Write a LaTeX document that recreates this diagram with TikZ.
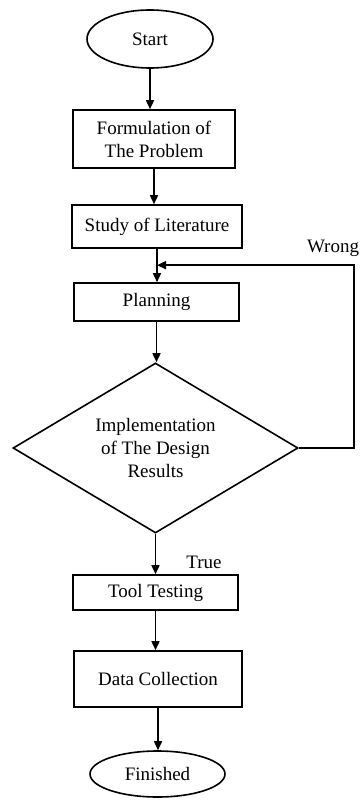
\documentclass[tikz,border=0pt]{standalone}
\usepackage{fontspec}
\setmainfont{Liberation Serif}
\usetikzlibrary{shapes.geometric, arrows.meta, positioning, calc}
\definecolor{mydark}{RGB}{0,0,0}
\tikzset{
  block/.style={rectangle, draw=mydark, fill=white, align=center,
    inner sep=0pt, line width=0.8pt},
  terminal/.style={ellipse, draw=mydark, fill=white, align=center,
    inner sep=0pt, line width=0.8pt},
  decision/.style={diamond, draw=mydark, fill=white, align=center,
    inner sep=0pt, aspect=1.68, line width=0.8pt},
  tag/.style={inner sep=0pt, color=mydark},
  arrow/.style={-{Triangle[length=4.5pt,width=4pt]}, line width=0.8pt, color=mydark}
}

\begin{document}
\begin{tikzpicture}[x=0.5pt, y=-0.5pt, every node/.style={font=\fontsize{9.5}{11.5}\selectfont}]
  \useasboundingbox (0,0) rectangle (359,802);

  % Terminals
  \node[terminal, minimum width=63pt, minimum height=29pt] (start) at (150,39) {Start};
  \node[terminal, minimum width=67.5pt, minimum height=23pt] (finished) at (157.5,774) {Finished};

  % Steps
  \node[block, minimum width=81pt, minimum height=29pt] (formulation) at (154,139) {Formulation of\\The Problem};
  \node[block, minimum width=85pt, minimum height=21.5pt] (study) at (157,226.5) {Study of Literature};
  \node[block, minimum width=82.5pt, minimum height=19pt] (planning) at (156.5,302) {Planning};
  \node[block, minimum width=82.5pt, minimum height=17.5pt] (testing) at (155.5,592.5) {Tool Testing};
  \node[block, minimum width=84pt, minimum height=28pt] (collection) at (158,679) {Data Collection};

  % Decision
  \node[decision, minimum width=142.5pt, minimum height=85pt] (design) at (155.5,448) {Implementation\\of The Design\\Results};

  % Main flow
  \draw[arrow] (start.south) -- (start.south |- formulation.north);
  \draw[arrow] (formulation.south) -- (formulation.south |- study.north);
  \draw[arrow] (study.south) -- (study.south |- planning.north);
  \draw[arrow] (planning.south) -- (planning.south |- design.north);
  \draw[arrow] (design.south) -- (design.south |- testing.north);
  \draw[arrow] (testing.south) -- (testing.south |- collection.north);
  \draw[arrow] (collection.south) -- (collection.south |- finished.north);

  % Loop back
  \coordinate (merge) at ($(study.south)!0.49!(study.south |- planning.north)$);
  \draw[arrow] (design.east) -- ++(55,0) |- (merge);

  % Labels
  \node[tag] (wrong) at (333,248) {Wrong};
  \node[tag] (true) at (204,562) {True};
\end{tikzpicture}
\end{document}
